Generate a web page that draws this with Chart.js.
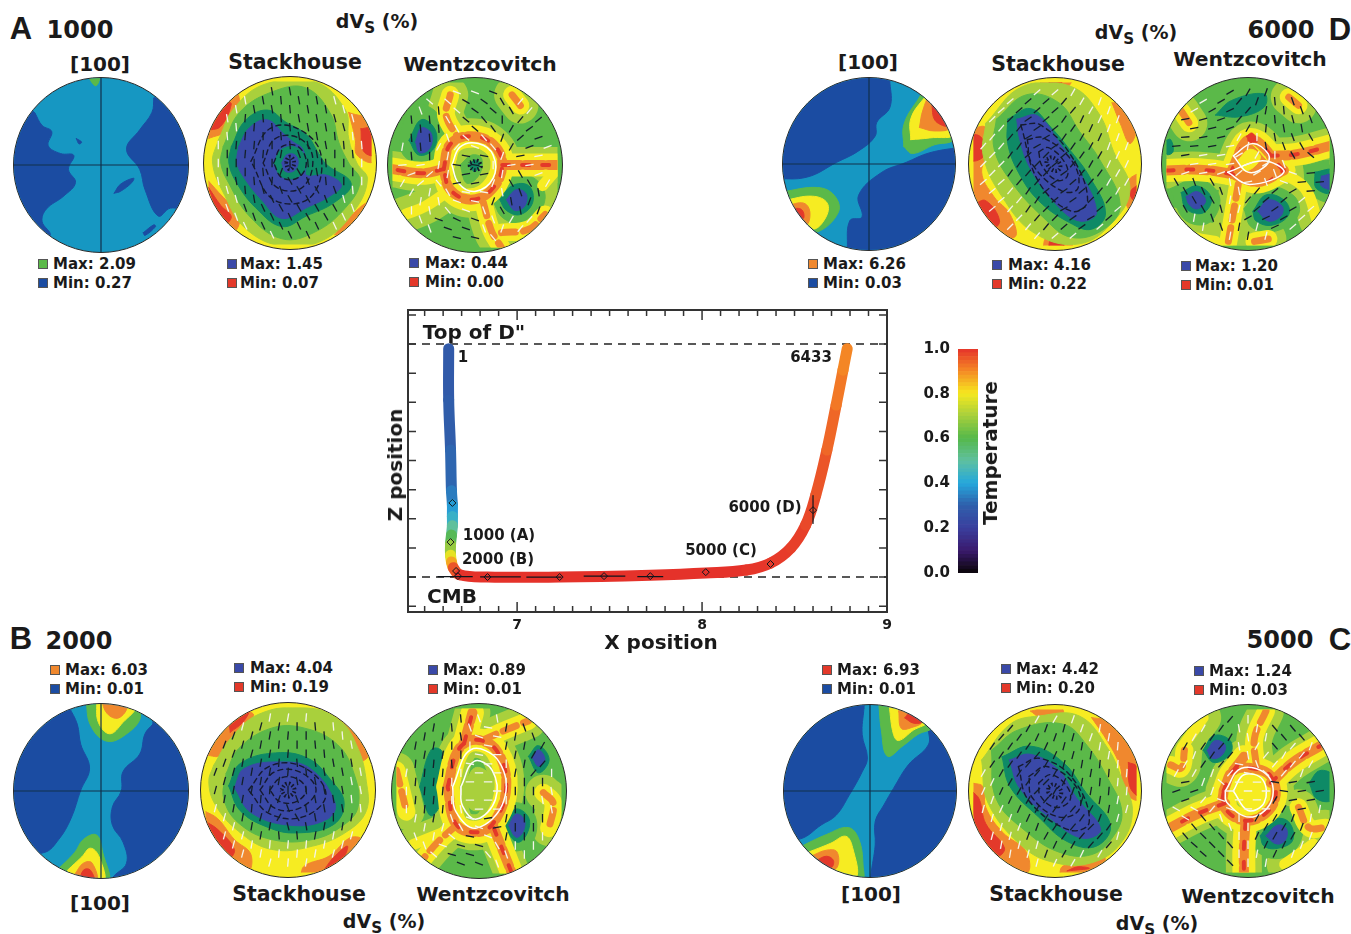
<!DOCTYPE html>
<html>
<head>
<meta charset="utf-8">
<title>Pole figures along a D'' path</title>
<script src="https://cdn.jsdelivr.net/npm/chart.js@4"></script>
<style>
    html, body { margin: 0; padding: 0; background: #fff; }
    #page { position: relative; width: 1351px; height: 934px; overflow: hidden; font-family: "DejaVu Sans", sans-serif; font-weight: bold; color: #1a1a1a; }
    .pole { position: absolute; border-radius: 50%; overflow: hidden; box-sizing: border-box; border: 1px solid #2a2a2a; }
    .pole canvas { display: block; margin: -1px; filter: blur(0.7px); }
    .label { position: absolute; white-space: nowrap; transform: translate(-50%, -50%); }
    .label sub { font-size: 0.8em; vertical-align: -0.35em; line-height: 0; }
    .legend { position: absolute; white-space: nowrap; font-size: 15px; line-height: 16px; transform: translateY(-50%); }
    .swatch { position: absolute; width: 10px; height: 10px; box-sizing: border-box; border: 1px solid #555; transform: translate(-50%, -50%); }
    #pathCanvas, #barCanvas { position: absolute; }
</style>
</head>
<body>
<div id="page">
    <canvas id="pathCanvas" width="520" height="365" style="left:378px;top:300px"></canvas>
    <canvas id="barCanvas" width="60" height="242" style="left:920px;top:340px"></canvas>
</div>
<script>
// contour levels of the pole figures
const D = 0, C = 1, G = 2, Y = 3, O = 4, R = 5, B = 6, T = 7, L = 8;
// hot bands (drawn as nested thick lines) and rings of fast axis marks
const HOT = 9, WARM = 10, PALE = 11, RK = 12, RW = 13, EYE = 14;

// path of the tracer
const pathX = [6.63, 6.63, 6.64, 6.645, 6.65, 6.65, 6.65, 6.645, 6.64, 6.64, 6.645, 6.655, 6.69, 6.84, 7.23, 7.72, 8.02, 8.24, 8.37, 8.48, 8.56, 8.615, 8.675, 8.725, 8.762, 8.785];
const pathZ = [0.98, 0.76, 0.545, 0.37, 0.31, 0.26, 0.22, 0.18, 0.14, 0.094, 0.065, 0.04, 0.01, 0, 0, 0.008, 0.017, 0.03, 0.06, 0.125, 0.223, 0.352, 0.545, 0.738, 0.888, 0.98];
const pathTemp = [0.28, 0.29, 0.3, 0.32, 0.36, 0.41, 0.46, 0.55, 0.62, 0.74, 0.82, 0.92, 1, 1, 1, 1, 1, 1, 0.99, 0.99, 0.98, 0.97, 0.95, 0.93, 0.91, 0.9];
const markX = [6.65, 6.64, 6.67, 6.68, 6.84, 7.23, 7.47, 7.72, 8.02, 8.37, 8.6];
const markZ = [0.318, 0.15, 0.026, 0.004, 0, 0, 0.004, 0.004, 0.021, 0.056, 0.287];
const whiskerX = [6.57, 6.76, null, 6.8, 7.02, null, 7.05, 7.24, null, 7.36, 7.585, null, 7.65, 7.79, null, 8.6, 8.6];
const whiskerZ = [0.002, 0.002, null, 0.001, 0.001, null, 0, 0, null, 0.004, 0.004, null, 0.002, 0.002, null, 0.35, 0.23];
const xTickLabels = [7, 8, 9];
const xTickMarks = [6.5, 6.6, 6.7, 6.8, 6.9, 7, 7.1, 7.2, 7.3, 7.4, 7.5, 7.6, 7.7, 7.8, 7.9, 8, 8.1, 8.2, 8.3, 8.4, 8.5, 8.6, 8.7, 8.8, 8.9, 9];
const zTickMarks = [-0.125, 0, 0.125, 0.25, 0.375, 0.5, 0.625, 0.75, 0.875, 1, 1.125];
const tempTicks = [0, 0.2, 0.4, 0.6, 0.8, 1];
const tempStops = [0, 0.1, 0.2, 0.3, 0.4, 0.5, 0.6, 0.7, 0.8, 0.9, 1];
const tempColors = ['#0a0508', '#3a1a6e', '#3a3f9e', '#2f5fab', '#25a8dc', '#5fc0a0', '#55b84a', '#a6cf3c', '#f6e81f', '#f58a25', '#e5322a'];

// contour layers, [level, x, y, x, y, ...] in unit disc coordinates
const a100 = [
    [D, -0.75, 0.59, -0.67, 0.45, -0.56, 0.38, -0.6, 0.22, -0.46, 0.13, -0.31, 0.11, -0.37, -0.05, -0.29, -0.2, -0.42, -0.35, -0.62, -0.5, -0.67, -0.64, -0.58, -0.81, -0.9, -1.1, -1.15, 0, -1, 0.8],
    [D, 0.6, 0.76, 0.58, 0.6, 0.44, 0.4, 0.29, 0.18, 0.44, -0.05, 0.5, -0.28, 0.65, -0.58, 0.79, -0.49, 1.1, -0.5, 1.15, 0.3, 1, 0.9],
    [D, 0.15, -0.32, 0.22, -0.22, 0.37, -0.15, 0.35, -0.2, 0.22, -0.3],
    [D, 0.48, -0.77, 0.6, -0.68, 0.62, -0.7, 0.5, -0.8],
    [D, -0.28, 0.3, -0.22, 0.26, -0.25, 0.24],
    [G, -0.16, 1.02, -0.06, 0.9, -0.02, 1.02],
];
const d100 = [
    [D, -1.1, -0.17, -0.71, -0.15, -0.37, 0.02, -0.12, 0.15, 0.07, 0.32, 0.09, 0.48, 0.24, 0.65, 0.24, 0.93, 0.2, 1.1, -1.1, 1.1],
    [D, 1.1, 0.2, 0.7, 0.13, 0.43, 0.02, 0.14, -0.1, -0.12, -0.36, -0.08, -0.61, -0.22, -0.65, -0.25, -0.97, -0.25, -1.1, 1.1, -1.1],
    [G, 0.4, 0.2, 0.4, 0.45, 0.55, 0.72, 0.7, 0.88, 1.05, 0.5, 0.98, 0.28, 0.75, 0.22, 0.5, 0.12],
    [Y, 0.48, 0.28, 0.48, 0.52, 0.62, 0.74, 0.72, 0.82, 0.98, 0.35, 0.7, 0.3],
    [O, 0.58, 0.42, 0.62, 0.62, 0.7, 0.76, 0.92, 0.42, 0.75, 0.38],
    [R, 0.72, 0.7, 0.9, 0.44, 0.76, 0.5],
    [G, -1, -0.32, -0.59, -0.27, -0.4, -0.36, -0.35, -0.55, -0.59, -0.78, -0.72, -0.7, -1, -0.6],
    [Y, -0.98, -0.42, -0.65, -0.37, -0.48, -0.45, -0.5, -0.62, -0.65, -0.75, -0.85, -0.6],
    [O, -0.95, -0.48, -0.75, -0.45, -0.68, -0.55, -0.72, -0.7, -0.85, -0.6],
    [R, -0.93, -0.52, -0.78, -0.52, -0.75, -0.62, -0.82, -0.62],
];
const b100 = [
    [D, -0.36, 0.95, -0.27, 0.76, -0.23, 0.53, -0.13, 0.26, -0.23, 0.01, -0.34, -0.31, -0.48, -0.55, -0.65, -0.7, -1.1, -0.7, -1.1, 1.1, -0.36, 1.1],
    [D, 0.59, 0.76, 0.5, 0.65, 0.44, 0.42, 0.25, 0.22, 0.23, 0, 0.13, -0.18, 0.13, -0.39, 0.25, -0.58, 0.29, -0.82, 0.13, -0.99, 0.13, -1.1, 1.1, -1.1, 1.1, 1, 0.6, 1],
    [G, -0.17, 1.02, -0.12, 0.75, 0.05, 0.57, 0.25, 0.62, 0.45, 0.85, 0.3, 1.05],
    [Y, -0.05, 1.02, -0.03, 0.78, 0.1, 0.65, 0.25, 0.78, 0.38, 0.95],
    [O, 0, 1.05, 0.07, 0.88, 0.2, 0.83, 0.3, 0.97, 0.2, 1.05],
    [G, -0.5, -0.9, -0.3, -0.7, -0.2, -0.55, -0.05, -0.5, 0.02, -0.7, 0.08, -1.05, -0.3, -1.05],
    [Y, -0.38, -0.9, -0.22, -0.75, -0.12, -0.65, -0.02, -0.75, 0.03, -1.05, -0.25, -1.05],
    [O, -0.3, -0.95, -0.2, -0.82, -0.1, -0.82, -0.05, -1.05, -0.25, -1.05],
    [R, -0.25, -1.05, -0.2, -0.9, -0.12, -0.9, -0.08, -1.05],
];
const c100 = [
    [D, -0.07, 0.95, -0.09, 0.65, -0.03, 0.38, -0.09, 0.22, -0.24, -0.05, -0.39, -0.28, -0.56, -0.39, -0.8, -0.55, -1.1, -0.55, -1.1, 1.1, -0.07, 1.1],
    [D, 0.67, 0.72, 0.67, 0.53, 0.44, 0.3, 0.27, 0.03, 0.16, -0.16, 0.06, -0.35, 0.06, -0.62, 0.01, -0.97, 0.01, -1.1, 1.1, -1.1, 1.1, 0.6, 0.8, 0.8],
    [G, 0.1, 1.02, 0.13, 0.7, 0.2, 0.4, 0.38, 0.52, 0.55, 0.65, 0.72, 0.74, 0.55, 0.98],
    [Y, 0.22, 0.98, 0.27, 0.65, 0.33, 0.58, 0.5, 0.7, 0.66, 0.8, 0.45, 1],
    [O, 0.33, 0.92, 0.36, 0.72, 0.48, 0.73, 0.6, 0.8, 0.47, 0.96],
    [R, 0.4, 0.84, 0.5, 0.78, 0.6, 0.8, 0.48, 0.92],
    [G, -0.82, -0.65, -0.5, -0.5, -0.25, -0.42, -0.13, -0.55, -0.08, -0.85, -0.1, -1.05, -0.5, -1],
    [Y, -0.7, -0.7, -0.45, -0.6, -0.28, -0.52, -0.2, -0.65, -0.16, -1, -0.4, -0.95],
    [O, -0.68, -0.75, -0.5, -0.68, -0.38, -0.7, -0.38, -0.88, -0.5, -0.9],
    [R, -0.62, -0.8, -0.5, -0.75, -0.42, -0.8, -0.45, -0.88],
];

const aStack = [
    [O, -1, 0.3, -0.78, 0.4, -0.62, 0.72, -0.7, 0.9, -1, 0.7],
    [R, -1, 0.4, -0.85, 0.45, -0.72, 0.72, -0.78, 0.75],
    [O, 0.72, 0.62, 0.8, 0.3, 0.82, 0.1, 1.02, 0.02, 1, 0.5],
    [R, 0.87, 0.42, 0.9, 0.15, 1.02, 0.1, 1, 0.42],
    [O, -1.02, -0.2, -0.82, -0.42, -0.62, -0.62, -0.7, -0.85, -1, -0.7],
    [R, -1, -0.3, -0.85, -0.52, -0.72, -0.66, -0.82, -0.75],
    [O, 0.55, -0.88, 0.78, -0.62, 0.95, -0.5, 0.85, -0.9],
    [L, -0.88, 0.28, -0.68, 0.68, -0.3, 0.97, 0.3, 1, 0.68, 0.65, 0.72, 0.3, 0.82, 0, 0.95, -0.2, 0.78, -0.6, 0.4, -0.95, -0.1, -1.02, -0.55, -0.8, -0.8, -0.4, -0.95, 0],
    [G, -0.82, 0.2, -0.62, 0.62, -0.2, 0.88, 0.2, 0.92, 0.5, 0.6, 0.6, 0.25, 0.72, 0, 0.86, -0.22, 0.68, -0.55, 0.3, -0.85, -0.1, -0.93, -0.5, -0.65, -0.75, -0.25, -0.85, 0],
    [T, -0.72, 0.2, -0.55, 0.52, -0.28, 0.65, -0.05, 0.5, 0.2, 0.35, 0.35, 0.12, 0.45, -0.02, 0.75, -0.25, 0.55, -0.48, 0.2, -0.65, -0.1, -0.78, -0.42, -0.55, -0.65, -0.25, -0.75, 0],
    [B, -0.63, 0.2, -0.5, 0.43, -0.28, 0.53, -0.08, 0.36, 0.05, 0.25, 0.15, 0.18, 0.2, 0, 0.2, -0.15, 0.45, -0.15, 0.63, -0.27, 0.5, -0.4, 0.2, -0.55, -0.1, -0.68, -0.35, -0.45, -0.55, -0.2, -0.65, 0],
    [T, -0.2, 0, -0.1, 0.17, 0.1, 0.18, 0.2, 0, 0.1, -0.17, -0.1, -0.17],
    [B, -0.1, 0, -0.04, 0.1, 0.06, 0.1, 0.1, 0, 0.04, -0.1, -0.06, -0.1],
    [RK, -0.2, 0, -0.1, 0.2, 0.1, 0.2, 0.2, 0, 0.1, -0.18, -0.1, -0.18],
    [RK, -0.33, 0, -0.18, 0.3, 0.12, 0.3, 0.28, 0.05, 0.15, -0.3, -0.16, -0.3],
    [RK, -0.48, 0.02, -0.25, 0.42, 0.1, 0.42, 0.38, 0.1, 0.25, -0.42, -0.2, -0.45],
    [EYE, -0.05, 0, -0.02, 0.07, 0.02, 0.07, 0.05, 0, 0.02, -0.07, -0.02, -0.07],
];
const dStack = [
    [O, -0.2, 1.05, -0.12, 0.92, 0.12, 0.92, 0.2, 1.05],
    [R, -0.08, 1.03, -0.05, 0.95, 0.05, 0.95, 0.08, 1.03],
    [O, -0.15, -1.05, -0.1, -0.9, 0.15, -0.9, 0.2, -1.05],
    [R, -0.08, -1.03, -0.05, -0.93, 0.08, -0.93, 0.1, -1.03],
    [O, -1.05, 0.42, -0.85, 0.45, -0.8, 0.2, -0.9, -0.1, -0.75, -0.4, -0.55, -0.62, -0.5, -0.9, -1, -0.82],
    [R, -1.05, 0.38, -0.9, 0.32, -0.87, 0.1, -1.05, 0.05],
    [R, -1, -0.5, -0.85, -0.45, -0.68, -0.7, -0.8, -0.8],
    [O, 1.05, -0.1, 0.9, -0.2, 0.85, -0.4, 0.95, -0.6, 1.05, -0.5],
    [R, 1.02, -0.25, 0.92, -0.35, 0.98, -0.45],
    [O, 0.7, 0.75, 0.8, 0.5, 0.92, 0.25, 1, 0.5, 0.85, 0.75],
    [L, -0.85, 0.5, -0.4, 0.95, 0.2, 0.95, 0.55, 0.6, 0.72, 0.15, 0.92, -0.3, 0.72, -0.7, 0.3, -0.98, -0.25, -0.85, -0.65, -0.4, -0.88, 0.1],
    [G, -0.72, 0.55, -0.35, 0.85, 0.05, 0.75, 0.3, 0.4, 0.55, 0.05, 0.8, -0.5, 0.6, -0.8, 0.2, -0.9, -0.15, -0.65, -0.55, -0.2, -0.75, 0.2],
    [T, -0.58, 0.55, -0.3, 0.68, -0.05, 0.45, 0.2, 0.15, 0.42, -0.15, 0.62, -0.6, 0.45, -0.8, 0.18, -0.72, -0.2, -0.45, -0.45, -0.1, -0.58, 0.25],
    [B, -0.47, 0.55, -0.21, 0.59, 0.09, 0.21, 0.26, -0.02, 0.51, -0.59, 0.3, -0.7, 0, -0.48, -0.3, -0.06, -0.43, 0.29],
    [RK, -0.2, 0.15, -0.08, 0.2, 0.12, 0.02, 0.15, -0.15, 0.02, -0.2, -0.16, -0.02],
    [RK, -0.34, 0.3, -0.14, 0.32, 0.22, 0.02, 0.28, -0.3, 0.08, -0.33, -0.28, 0],
    [RK, -0.42, 0.48, -0.18, 0.48, 0.2, 0.1, 0.4, -0.45, 0.2, -0.58, -0.2, -0.22],
    [EYE, -0.1, 0.06, -0.03, 0.08, 0.06, 0, 0.05, -0.07, -0.02, -0.08, -0.1, 0],
];
const bStack = [
    [O, -0.98, 0.42, -0.82, 0.42, -0.55, 0.75, -0.42, 0.92, -0.7, 0.95],
    [R, -0.7, 0.7, -0.55, 0.82, -0.48, 0.95, -0.7, 0.85],
    [O, 0.55, 0.95, 0.72, 0.6, 0.88, 0.35, 1, 0.5],
    [O, -1.02, -0.25, -0.85, -0.35, -0.65, -0.6, -0.45, -0.78, -0.5, -1, -0.95, -0.8],
    [R, -1, -0.38, -0.85, -0.48, -0.65, -0.72, -0.72, -0.82],
    [O, 0.15, -1.05, 0.2, -0.92, 0.5, -0.8, 0.75, -0.58, 0.88, -0.6, 0.55, -1],
    [R, 0.45, -0.95, 0.55, -0.82, 0.72, -0.68, 0.65, -0.85],
    [L, -0.9, 0.3, -0.7, 0.62, -0.35, 0.92, 0.2, 1, 0.62, 0.85, 0.85, 0.5, 0.95, 0.1, 0.95, -0.25, 0.72, -0.5, 0.3, -0.68, -0.2, -0.72, -0.6, -0.5, -0.88, -0.18, -0.96, 0.1],
    [G, -0.75, 0.2, -0.6, 0.5, -0.2, 0.75, 0.2, 0.75, 0.6, 0.55, 0.8, 0.2, 0.85, -0.2, 0.68, -0.42, 0.3, -0.6, -0.2, -0.6, -0.6, -0.4, -0.78, -0.1],
    [T, -0.72, 0.05, -0.58, 0.32, -0.15, 0.45, 0.25, 0.38, 0.52, 0.12, 0.68, -0.15, 0.55, -0.42, 0.1, -0.52, -0.25, -0.45, -0.58, -0.25],
    [B, -0.65, 0.03, -0.53, 0.26, -0.1, 0.34, 0.27, 0.26, 0.57, -0.16, 0.48, -0.35, 0.06, -0.43, -0.44, -0.28],
    [RK, -0.22, 0, -0.1, 0.14, 0.1, 0.14, 0.22, 0, 0.1, -0.14, -0.1, -0.14],
    [RK, -0.34, 0, -0.16, 0.22, 0.14, 0.22, 0.34, 0, 0.14, -0.22, -0.16, -0.22],
    [RK, -0.48, 0, -0.22, 0.29, 0.18, 0.28, 0.46, -0.05, 0.2, -0.32, -0.22, -0.29],
    [EYE, -0.08, 0, -0.03, 0.07, 0.03, 0.07, 0.08, 0, 0.03, -0.07, -0.03, -0.07],
];
const cStack = [
    [O, -0.3, 0.98, -0.1, 0.85, 0.1, 0.9, 0.05, 1.05],
    [O, 0.45, 0.9, 0.65, 0.6, 0.8, 0.3, 0.85, 0, 1.02, -0.1, 1, 0.5, 0.7, 0.85],
    [R, 0.9, 0.35, 0.92, 0.05, 1.02, -0.05, 1, 0.3],
    [O, -1.02, 0.1, -0.88, 0.05, -0.85, -0.2, -0.65, -0.5, -0.35, -0.75, -0.35, -1, -0.9, -0.7],
    [R, -1.02, 0, -0.93, -0.1, -0.85, -0.4, -0.62, -0.7, -0.72, -0.8, -0.95, -0.5],
    [O, 0.05, -1.05, 0.1, -0.92, 0.4, -0.88, 0.6, -0.78, 0.55, -1],
    [R, 0.15, -0.98, 0.28, -0.93, 0.42, -0.95],
    [L, -0.9, 0.38, -0.55, 0.82, -0.2, 0.92, 0.3, 0.92, 0.65, 0.52, 0.82, 0.15, 0.95, -0.25, 0.8, -0.65, 0.45, -0.88, 0, -0.88, -0.4, -0.68, -0.82, -0.15],
    [G, -0.78, 0.5, -0.45, 0.75, 0.1, 0.82, 0.4, 0.55, 0.65, 0.15, 0.82, -0.25, 0.72, -0.55, 0.45, -0.78, 0.05, -0.75, -0.35, -0.5, -0.72, -0.1],
    [T, -0.65, 0.42, -0.3, 0.55, 0.1, 0.35, 0.38, -0.02, 0.68, -0.42, 0.5, -0.68, 0.15, -0.62, -0.2, -0.32, -0.55, 0.05],
    [B, -0.56, 0.38, -0.3, 0.45, 0.04, 0.26, 0.26, -0.08, 0.56, -0.47, 0.34, -0.58, -0.04, -0.35, -0.43, 0.03],
    [RK, -0.2, 0.1, -0.05, 0.2, 0.15, 0.05, 0.18, -0.12, 0, -0.2, -0.18, -0.06],
    [RK, -0.32, 0.18, -0.1, 0.3, 0.24, 0.08, 0.3, -0.22, 0.05, -0.32, -0.28, -0.08],
    [RK, -0.45, 0.3, -0.18, 0.4, 0.22, 0.15, 0.42, -0.38, 0.18, -0.48, -0.32, -0.12],
    [EYE, -0.08, 0.05, -0.02, 0.08, 0.07, 0.01, 0.06, -0.07, 0, -0.08, -0.08, -0.02],
];

const aWentz = [
    [G, -0.92, 0.35, -0.75, 0.72, -0.45, 0.62, -0.38, 0.25, -0.6, 0.03, -0.85, 0.1],
    [T, -0.8, 0.3, -0.65, 0.55, -0.48, 0.42, -0.5, 0.2, -0.68, 0.12],
    [B, -0.72, 0.28, -0.65, 0.45, -0.53, 0.38, -0.55, 0.2, -0.67, 0.15],
    [G, 0.2, -0.4, 0.4, -0.15, 0.7, -0.15, 0.85, -0.4, 0.65, -0.7, 0.35, -0.65],
    [T, 0.3, -0.42, 0.45, -0.25, 0.65, -0.25, 0.7, -0.45, 0.55, -0.6, 0.38, -0.55],
    [B, 0.38, -0.42, 0.5, -0.3, 0.62, -0.35, 0.6, -0.5, 0.48, -0.55],
    [HOT, -0.38, -0.05, -0.3, 0.25, -0.05, 0.35, 0.22, 0.25, 0.33, 0, 0.2, -0.3, -0.05, -0.42, -0.3, -0.3, -0.38, -0.05],
    [HOT, -0.38, -0.05, -0.65, -0.1, -1, -0.05],
    [HOT, 0.33, 0, 0.6, 0, 1, 0],
    [WARM, -0.3, 0.85, -0.35, 0.6, -0.2, 0.32],
    [WARM, 0.45, 0.85, 0.55, 0.72],
    [WARM, 0.1, -0.45, 0.2, -0.8, 0.32, -1],
    [WARM, 0.32, -0.82, 0.65, -0.78, 0.85, -0.6],
    [PALE, -0.3, -0.3, -0.6, -0.5, -0.85, -0.6],
    [PALE, 0.95, -0.1, 0.82, -0.25],
    [L, -0.22, 0.05, -0.05, 0.2, 0.15, 0.1, 0.12, -0.15, -0.1, -0.28, -0.25, -0.15],
    [G, -0.18, 0, -0.04, 0.12, 0.08, 0.08, 0.05, -0.12, -0.1, -0.22],
    [T, -0.08, 0, 0, 0.06, 0.06, 0.02, 0, -0.08],
    [RW, -0.28, 0, -0.18, 0.22, 0.04, 0.26, 0.22, 0.12, 0.22, -0.16, 0, -0.32, -0.2, -0.22],
    [EYE, -0.06, 0.03, 0.03, 0.05, 0.07, -0.02, 0, -0.06, -0.06, -0.02],
];
const dWentz = [
    [T, -0.4, 0.6, -0.2, 0.78, 0.2, 0.86, 0.2, 0.7, -0.1, 0.58],
    [T, -1.02, 0.28, -0.95, 0.3, -0.92, 0.15, -1, 0.12],
    [G, -0.95, -0.3, -0.62, -0.18, -0.35, -0.4, -0.48, -0.72, -0.78, -0.68],
    [T, -0.82, -0.35, -0.62, -0.27, -0.45, -0.42, -0.55, -0.6, -0.76, -0.55],
    [B, -0.76, -0.4, -0.62, -0.34, -0.52, -0.45, -0.62, -0.55, -0.72, -0.5],
    [G, -0.05, -0.55, 0.18, -0.28, 0.55, -0.38, 0.62, -0.62, 0.35, -0.82, 0.05, -0.78],
    [T, 0.06, -0.58, 0.22, -0.38, 0.45, -0.45, 0.5, -0.62, 0.3, -0.75, 0.1, -0.7],
    [B, 0.12, -0.58, 0.25, -0.44, 0.42, -0.52, 0.4, -0.64, 0.25, -0.7],
    [G, 0.68, -0.02, 1.05, 0.02, 1.05, -0.45, 0.75, -0.35],
    [T, 0.82, -0.1, 1.05, -0.08, 1.05, -0.35, 0.84, -0.3],
    [B, 0.9, -0.15, 1.05, -0.13, 1.05, -0.3, 0.9, -0.27],
    [HOT, -1, -0.08, -0.6, -0.07, -0.22, -0.12, 0.12, -0.22, 0.44, -0.08],
    [HOT, -0.22, -0.12, 0.03, 0.3, 0.44, -0.08],
    [HOT, 0.28, 0.1, 0.6, 0.12, 1, 0.22],
    [WARM, -0.82, 0.65, -0.72, 0.5],
    [WARM, 0.5, 0.82, 0.62, 0.72],
    [WARM, -0.12, -0.25, -0.18, -0.6, -0.25, -1],
    [WARM, 0.08, -0.95, 0.25, -0.92],
    [PALE, 0.4, -0.1, 0.7, -0.3, 0.85, -0.7],
    [PALE, -0.95, -0.75, -0.65, -0.9, -0.4, -0.95],
    [R, -0.02, 0.34, 0.05, 0.38, 0.1, 0.3, 0.04, 0.26],
    [O, -0.2, 0.02, -0.02, 0.25, 0.22, 0.05, 0.35, -0.1, 0, -0.25],
    [Y, -0.12, 0.05, 0.02, 0.18, 0.15, 0.1, 0.08, -0.03, -0.05, -0.08],
    [RW, -0.18, 0.1, 0.05, 0.25, 0.25, 0.12, 0.22, -0.02, 0, -0.1],
    [RW, -0.25, -0.1, 0.02, -0.25, 0.44, -0.1, 0.18, 0.04],
];
const bWentz = [
    [T, -0.72, 0.05, -0.58, 0.5, -0.45, 0.48, -0.42, 0, -0.58, -0.3],
    [T, 0.6, 0.42, 0.72, 0.55, 0.85, 0.38, 0.72, 0.22],
    [B, 0.65, 0.4, 0.72, 0.5, 0.8, 0.38, 0.72, 0.3],
    [G, 0.2, -0.42, 0.4, -0.15, 0.65, -0.25, 0.68, -0.55, 0.5, -0.72, 0.25, -0.65],
    [T, 0.3, -0.42, 0.44, -0.22, 0.6, -0.32, 0.58, -0.52, 0.46, -0.62],
    [B, 0.36, -0.42, 0.45, -0.28, 0.55, -0.35, 0.53, -0.5, 0.45, -0.56],
    [HOT, -0.38, 0.05, -0.25, 0.5, -0.03, 0.62, 0.22, 0.48, 0.33, 0.05, 0.18, -0.38, -0.03, -0.5, -0.28, -0.4, -0.38, 0.05],
    [HOT, -0.18, 0.58, -0.08, 0.95],
    [HOT, 0.18, -0.45, 0.3, -0.75, 0.4, -1],
    [WARM, 0.05, 0.62, 0.35, 0.75, 0.6, 0.85],
    [WARM, -0.28, -0.42, -0.5, -0.62, -0.7, -0.85],
    [WARM, -1, 0.25, -0.92, -0.08, -0.88, -0.25],
    [WARM, 0.78, -0.02, 0.9, -0.15, 0.85, -0.45],
    [PALE, -0.3, -0.45, -0.8, -0.65],
    [L, -0.18, 0.05, -0.05, 0.28, 0.12, 0.2, 0.14, -0.1, -0.03, -0.24, -0.18, -0.12],
    [RW, -0.22, 0.05, -0.06, 0.36, 0.16, 0.25, 0.2, -0.1, -0.03, -0.34, -0.2, -0.18],
    [RW, -0.32, 0.05, -0.1, 0.5, 0.24, 0.36, 0.3, -0.12, -0.03, -0.45, -0.28, -0.25],
];
const cWentz = [
    [T, -0.55, 0.5, -0.42, 0.68, -0.22, 0.62, -0.22, 0.45, -0.42, 0.35],
    [B, -0.5, 0.5, -0.4, 0.62, -0.28, 0.56, -0.32, 0.44, -0.44, 0.4],
    [G, 0.05, -0.55, 0.25, -0.22, 0.62, -0.25, 0.65, -0.6, 0.42, -0.82, 0.12, -0.75],
    [T, 0.15, -0.55, 0.32, -0.35, 0.5, -0.38, 0.55, -0.6, 0.38, -0.7, 0.2, -0.68],
    [B, 0.22, -0.55, 0.36, -0.42, 0.47, -0.46, 0.46, -0.6, 0.35, -0.65],
    [T, 0.75, 0.1, 0.88, 0.25, 1.05, 0.18, 1.05, -0.1, 0.85, -0.1],
    [HOT, -0.3, 0, -0.18, 0.25, 0.05, 0.28, 0.28, 0.18, 0.33, -0.1, 0.15, -0.32, -0.1, -0.35, -0.3, -0.18, -0.3, 0],
    [HOT, -0.28, -0.15, -0.62, -0.28, -0.95, -0.45],
    [HOT, 0.28, 0.1, 0.55, 0.35, 0.88, 0.55],
    [HOT, -0.03, -0.38, -0.05, -0.7, -0.05, -1],
    [HOT, -0.18, 0.25, -0.05, 0.42],
    [WARM, 0.1, 0.32, 0.08, 0.65, 0.22, 0.98],
    [WARM, -0.95, 0.32, -0.82, 0.28, -0.78, 0.5],
    [WARM, 0.62, -0.2, 0.75, -0.45, 0.95, -0.45],
    [PALE, -0.8, 0.55, -0.55, 0.9],
    [PALE, 0.45, -0.9, 0.8, -0.65],
    [Y, -0.2, 0, -0.05, 0.18, 0.18, 0.12, 0.2, -0.12, -0.02, -0.24],
    [RW, -0.18, 0, -0.05, 0.2, 0.18, 0.14, 0.2, -0.14, 0, -0.24],
    [RW, -0.28, 0, -0.08, 0.28, 0.25, 0.18, 0.28, -0.14, 0.02, -0.32, -0.26, -0.14],
];

// fast axis directions, rows from the top down, degrees clockwise.
// 0 means no mark, adding 180 gives the same line but drawn white.
// two staggered grids: 9x9 on gridSteps and 8x8 on gridStepsB
const gridSteps = [-0.88, -0.66, -0.44, -0.22, 0, 0.22, 0.44, 0.66, 0.88];
const gridStepsB = [-0.77, -0.55, -0.33, -0.11, 0.11, 0.33, 0.55, 0.77];
const aStackAngles = [
    [0, 0, 0, 80, 80, 85, 0, 0, 0],
    [0, 260, 80, 80, 85, 80, 80, 255, 0],
    [0, 265, 95, 85, 85, 80, 80, 75, 0],
    [270, 95, 95, 90, 85, 80, 80, 85, 265],
    [270, 90, 90, 90, 90, 85, 85, 90, 270],
    [260, 80, 85, 95, 60, 70, 85, 90, 270],
    [0, 255, 80, 65, 60, 60, 70, 255, 0],
    [0, 250, 70, 65, 65, 60, 60, 245, 0],
    [0, 0, 0, 245, 65, 65, 0, 0, 0],
];
const aStackAnglesB = [
    [0, 260, 80, 85, 80, 80, 255, 0],
    [260, 95, 85, 85, 80, 80, 75, 255],
    [265, 95, 90, 85, 80, 80, 85, 265],
    [90, 95, 95, 100, 70, 80, 90, 85],
    [90, 90, 85, 110, 60, 80, 90, 90],
    [255, 85, 75, 70, 60, 60, 70, 265],
    [250, 70, 65, 60, 60, 60, 60, 250],
    [0, 245, 65, 65, 65, 65, 245, 0],
];
const dStackAngles = [
    [0, 0, 0, 320, 320, 300, 0, 0, 0],
    [0, 320, 140, 140, 140, 130, 300, 290, 0],
    [0, 310, 130, 145, 140, 125, 115, 290, 0],
    [310, 310, 125, 150, 145, 125, 120, 290, 290],
    [315, 315, 125, 135, 140, 130, 120, 295, 295],
    [320, 320, 130, 130, 145, 140, 130, 300, 300],
    [0, 320, 310, 125, 140, 145, 135, 130, 0],
    [0, 0, 315, 130, 135, 145, 150, 140, 0],
    [0, 0, 0, 310, 320, 320, 0, 0, 0],
];
const dStackAnglesB = [
    [0, 320, 140, 140, 130, 300, 290, 0],
    [315, 135, 145, 140, 125, 115, 295, 290],
    [310, 130, 150, 150, 125, 120, 115, 290],
    [315, 125, 140, 135, 140, 125, 120, 295],
    [315, 125, 130, 135, 145, 130, 125, 300],
    [320, 310, 125, 140, 145, 140, 130, 300],
    [320, 310, 125, 135, 150, 150, 140, 320],
    [0, 315, 310, 130, 140, 145, 320, 0],
];
const bStackAngles = [
    [0, 0, 0, 280, 280, 275, 0, 0, 0],
    [0, 110, 105, 100, 95, 90, 85, 265, 0],
    [0, 110, 105, 100, 95, 90, 85, 80, 0],
    [110, 105, 100, 100, 95, 85, 80, 80, 260],
    [105, 100, 100, 95, 90, 85, 80, 80, 260],
    [285, 100, 95, 110, 70, 80, 80, 80, 265],
    [0, 285, 100, 100, 75, 80, 100, 100, 0],
    [0, 285, 280, 275, 275, 275, 280, 285, 0],
    [0, 0, 0, 285, 275, 280, 0, 0, 0],
];
const bStackAnglesB = [
    [0, 285, 105, 100, 90, 85, 265, 0],
    [110, 105, 100, 95, 90, 85, 80, 260],
    [110, 100, 100, 95, 85, 80, 80, 80],
    [105, 100, 100, 100, 80, 80, 80, 260],
    [100, 100, 95, 110, 70, 80, 80, 265],
    [285, 100, 105, 120, 60, 80, 90, 100],
    [285, 285, 100, 85, 85, 100, 280, 285],
    [0, 285, 280, 275, 275, 280, 285, 0],
];
const cStackAngles = [
    [0, 0, 0, 300, 300, 290, 0, 0, 0],
    [0, 130, 125, 115, 110, 105, 290, 280, 0],
    [0, 125, 125, 130, 115, 105, 100, 280, 0],
    [300, 120, 125, 130, 120, 105, 100, 95, 275],
    [295, 115, 120, 135, 120, 110, 100, 95, 275],
    [285, 295, 115, 120, 125, 130, 120, 100, 285],
    [0, 285, 290, 110, 125, 130, 135, 125, 0],
    [0, 280, 285, 285, 115, 120, 130, 130, 0],
    [0, 0, 0, 285, 295, 300, 0, 0, 0],
];
const cStackAnglesB = [
    [0, 130, 120, 110, 105, 290, 280, 0],
    [125, 125, 125, 115, 105, 100, 280, 275],
    [125, 125, 130, 120, 105, 100, 95, 275],
    [295, 120, 125, 135, 115, 100, 95, 275],
    [290, 115, 120, 130, 125, 110, 100, 280],
    [285, 290, 115, 120, 130, 125, 110, 285],
    [285, 285, 110, 120, 125, 130, 130, 285],
    [0, 280, 285, 110, 120, 295, 300, 0],
];
const aWentzAngles = [
    [0, 0, 0, 200, 200, 20, 0, 0, 0],
    [0, 250, 85, 220, 35, 40, 60, 310, 0],
    [0, 85, 85, 240, 40, 55, 120, 145, 0],
    [280, 85, 300, 310, 200, 230, 120, 160, 340],
    [355, 350, 280, 10, 10, 270, 350, 350, 0],
    [300, 320, 230, 170, 170, 290, 60, 60, 300],
    [0, 280, 260, 200, 190, 110, 80, 110, 0],
    [0, 250, 20, 25, 20, 250, 300, 310, 0],
    [0, 0, 0, 15, 15, 230, 0, 0, 0],
];
const aWentzAnglesB = [
    [0, 220, 220, 30, 35, 60, 310, 0],
    [85, 85, 240, 40, 50, 90, 130, 140],
    [85, 85, 250, 220, 230, 110, 140, 160],
    [85, 90, 280, 10, 10, 290, 170, 350],
    [340, 320, 280, 170, 170, 280, 60, 340],
    [300, 280, 240, 190, 190, 260, 70, 80],
    [270, 260, 230, 200, 250, 60, 80, 110],
    [0, 250, 20, 20, 250, 290, 310, 0],
];
const dWentzAngles = [
    [0, 0, 0, 150, 120, 110, 0, 0, 0],
    [0, 330, 150, 155, 130, 100, 85, 70, 0],
    [0, 170, 165, 160, 120, 95, 80, 80, 0],
    [175, 175, 170, 350, 280, 80, 70, 60, 0],
    [0, 350, 350, 350, 340, 330, 250, 0, 0],
    [60, 70, 60, 260, 350, 250, 200, 175, 175],
    [0, 60, 60, 280, 130, 140, 140, 320, 0],
    [0, 280, 70, 275, 150, 155, 150, 320, 0],
    [0, 0, 0, 280, 100, 285, 0, 0, 0],
];
const dWentzAnglesB = [
    [0, 330, 150, 130, 110, 85, 70, 0],
    [170, 165, 160, 130, 100, 85, 75, 70],
    [175, 170, 165, 300, 270, 80, 70, 60],
    [170, 350, 350, 330, 300, 270, 60, 40],
    [340, 350, 340, 320, 330, 250, 200, 175],
    [60, 65, 70, 260, 130, 140, 150, 175],
    [60, 60, 75, 285, 140, 145, 150, 320],
    [0, 280, 70, 100, 285, 155, 320, 0],
];
const bWentzAngles = [
    [0, 0, 0, 85, 250, 260, 0, 0, 0],
    [0, 100, 100, 80, 200, 190, 100, 70, 0],
    [0, 100, 100, 90, 190, 180, 100, 120, 0],
    [280, 95, 95, 270, 180, 180, 100, 130, 270],
    [270, 95, 95, 270, 0, 180, 90, 90, 260],
    [270, 95, 95, 260, 180, 180, 90, 90, 260],
    [0, 280, 285, 240, 200, 170, 90, 90, 0],
    [0, 250, 200, 15, 15, 240, 270, 270, 0],
    [0, 0, 0, 20, 20, 250, 0, 0, 0],
];
const bWentzAnglesB = [
    [0, 100, 85, 250, 190, 100, 70, 0],
    [100, 100, 90, 270, 190, 100, 100, 120],
    [95, 95, 85, 190, 180, 270, 100, 130],
    [95, 95, 270, 180, 180, 270, 90, 90],
    [95, 95, 270, 180, 180, 270, 90, 260],
    [280, 100, 250, 200, 170, 100, 90, 90],
    [250, 280, 220, 10, 200, 100, 90, 270],
    [0, 220, 15, 15, 230, 250, 270, 0],
];
const cWentzAngles = [
    [0, 0, 0, 130, 270, 0, 0, 0, 0],
    [0, 300, 125, 120, 260, 280, 50, 50, 0],
    [0, 290, 125, 130, 260, 310, 300, 310, 0],
    [300, 300, 290, 310, 190, 220, 310, 290, 0],
    [160, 160, 290, 180, 180, 180, 10, 170, 170],
    [210, 210, 310, 200, 180, 180, 120, 170, 280],
    [0, 50, 50, 250, 270, 120, 120, 110, 0],
    [0, 40, 45, 50, 270, 115, 115, 290, 0],
    [0, 0, 0, 45, 270, 280, 0, 0, 0],
];
const cWentzAnglesB = [
    [0, 300, 125, 260, 280, 50, 50, 0],
    [120, 125, 130, 260, 300, 50, 310, 290],
    [300, 125, 130, 190, 250, 310, 310, 300],
    [170, 290, 220, 180, 180, 10, 170, 170],
    [160, 310, 200, 180, 180, 120, 170, 170],
    [210, 50, 250, 270, 120, 120, 110, 280],
    [50, 45, 50, 270, 115, 120, 120, 290],
    [0, 40, 45, 270, 280, 115, 290, 0],
];

// legend text
const legendMax = ['2.09', '1.45', '0.44', '6.26', '4.16', '1.20', '6.03', '4.04', '0.89', '6.93', '4.42', '1.24'];
const legendMin = ['0.27', '0.07', '0.00', '0.03', '0.22', '0.01', '0.01', '0.19', '0.01', '0.01', '0.20', '0.03'];

// ---- layout and styles ----
const levelColors = ['#1b4ca2', '#1697c2', '#5bb949', '#f6ec22', '#f0882e', '#e3392a', '#3a49a8', '#0e8a66', '#a9d03c'];
const bandSteps = { [HOT]: [[Y, 23], [O, 10, [18, 5]], [R, 4, [7, 13]]], [WARM]: [[Y, 18], [O, 7, [14, 8]]], [PALE]: [[Y, 11]] };

const poles = [
    { cx: 101, cy: 165, r: 88, base: C, layers: a100, cross: true, maxSw: G, lx: 53, ly: 264, sx: 43 },
    { cx: 290, cy: 163, r: 87, base: Y, layers: aStack, angles: aStackAngles, anglesB: aStackAnglesB, maxSw: B, lx: 240, ly: 264, sx: 232 },
    { cx: 475, cy: 165, r: 88, base: G, layers: aWentz, angles: aWentzAngles, anglesB: aWentzAnglesB, maxSw: B, lx: 425, ly: 263, sx: 414 },
    { cx: 869, cy: 164, r: 87, base: C, layers: d100, cross: true, maxSw: O, lx: 823, ly: 264, sx: 813 },
    { cx: 1055, cy: 164, r: 87, base: Y, layers: dStack, angles: dStackAngles, anglesB: dStackAnglesB, maxSw: B, lx: 1008, ly: 265, sx: 997 },
    { cx: 1248, cy: 164, r: 87, base: G, layers: dWentz, angles: dWentzAngles, anglesB: dWentzAnglesB, maxSw: B, lx: 1195, ly: 266, sx: 1186 },
    { cx: 101, cy: 791, r: 88, base: C, layers: b100, cross: true, maxSw: O, lx: 65, ly: 670, sx: 55 },
    { cx: 288, cy: 790, r: 88, base: Y, layers: bStack, angles: bStackAngles, anglesB: bStackAnglesB, maxSw: B, lx: 250, ly: 668, sx: 239 },
    { cx: 479, cy: 791, r: 88, base: G, layers: bWentz, angles: bWentzAngles, anglesB: bWentzAnglesB, maxSw: B, lx: 443, ly: 670, sx: 433 },
    { cx: 870, cy: 791, r: 87, base: C, layers: c100, cross: true, maxSw: R, lx: 837, ly: 670, sx: 827 },
    { cx: 1055, cy: 791, r: 87, base: Y, layers: cStack, angles: cStackAngles, anglesB: cStackAnglesB, maxSw: B, lx: 1016, ly: 669, sx: 1006 },
    { cx: 1248, cy: 791, r: 87, base: G, layers: cWentz, angles: cWentzAngles, anglesB: cWentzAnglesB, maxSw: B, lx: 1209, ly: 671, sx: 1199 },
];

const dvLabel = 'dV<sub>S</sub> (%)';
const texts = [
    ['A', 21, 29, 31, 'Liberation Sans'], ['1000', 80, 30, 24],
    ['D', 1340, 30, 31, 'Liberation Sans'], ['6000', 1281, 30, 24],
    ['B', 21, 639, 31, 'Liberation Sans'], ['2000', 79, 641, 24],
    ['C', 1340, 640, 31, 'Liberation Sans'], ['5000', 1280, 640, 24],
    [dvLabel, 377, 21, 19], [dvLabel, 1136, 32, 19], [dvLabel, 384, 921, 19], [dvLabel, 1157, 923, 19],
    ['[100]', 100, 64, 20], ['Stackhouse', 295, 62, 20.5], ['Wentzcovitch', 480, 64, 20.3],
    ['[100]', 868, 62, 20], ['Stackhouse', 1058, 64, 20.5], ['Wentzcovitch', 1250, 59, 20.3],
    ['[100]', 100, 903, 20], ['Stackhouse', 299, 894, 20.5], ['Wentzcovitch', 493, 894, 20.3],
    ['[100]', 871, 894, 20], ['Stackhouse', 1056, 894, 20.5], ['Wentzcovitch', 1258, 896, 20.3],
    ['Top of D"', 474, 332, 20], ['CMB', 452, 596, 20],
    ['1', 463, 357, 15], ['6433', 811, 357, 15],
    ['1000 (A)', 499, 535, 15], ['2000 (B)', 498, 559, 15], ['5000 (C)', 721, 550, 15], ['6000 (D)', 765, 507, 15],
    ['X position', 661, 642, 20], ['Z position', 395, 465, 20, null, -90], ['Temperature', 990, 453, 20, null, -90],
];

const page = document.getElementById('page');

function addText(html, x, y, size, family, rot) {
    const el = document.createElement('div');
    el.className = 'label';
    el.innerHTML = html;
    el.style.left = x + 'px';
    el.style.top = y + 'px';
    el.style.fontSize = size + 'px';
    if (family) el.style.fontFamily = family;
    if (rot) el.style.transform = 'translate(-50%, -50%) rotate(' + rot + 'deg)';
    page.appendChild(el);
}

function addLegend(text, x, y, sx, color) {
    const sw = document.createElement('div');
    sw.className = 'swatch';
    sw.style.left = sx + 'px';
    sw.style.top = y + 'px';
    sw.style.background = color;
    page.appendChild(sw);
    const el = document.createElement('div');
    el.className = 'legend';
    el.textContent = text;
    el.style.left = x + 'px';
    el.style.top = y + 'px';
    page.appendChild(el);
}

function toPoints(flat) {
    const pts = [];
    for (let i = 0; i < flat.length; i += 2) pts.push({ x: flat[i], y: flat[i + 1] });
    return pts;
}

function lineSet(pts, color, width, extra) {
    return Object.assign({
        data: pts, showLine: true, fill: false, borderColor: color, borderWidth: width, tension: 0.4,
        pointRadius: 0, capBezierPoints: false, borderCapStyle: 'round', borderJoinStyle: 'round',
    }, extra);
}

const isBand = kind => kind === HOT || kind === WARM || kind === PALE;

function tickSet(angles, steps) {
    const pts = [], rot = [], cols = [];
    angles.forEach((row, j) => row.forEach((a, i) => {
        const x = steps[i], y = steps[steps.length - 1 - j];
        if (!a || x * x + y * y > 0.95) return;
        pts.push({ x, y });
        rot.push(a % 180);
        cols.push(a >= 180 ? '#f4f4ea' : '#14202a');
    }));
    return { data: pts, pointStyle: 'line', pointRadius: 4.2, pointBorderWidth: 1.3, pointRotation: rot, pointBorderColor: cols };
}

// turn the layers of one pole figure into datasets, painted in list order
function poleDatasets(pole) {
    const sets = [];
    let bands = [];
    // pale halo first so that the cold islands stay on top of it
    pole.layers.filter(l => isBand(l[0])).forEach(band => {
        sets.push(lineSet(toPoints(band.slice(1)), levelColors[L], 36));
    });
    const flushBands = () => {
        for (let step = 0; step < 3; step++) {
            bands.forEach(band => {
                const s = bandSteps[band[0]][step];
                if (s) sets.push(lineSet(toPoints(band.slice(1)), levelColors[s[0]], s[1], s[2] ? { borderDash: s[2] } : {}));
            });
        }
        bands = [];
    };
    pole.layers.forEach(layer => {
        const kind = layer[0];
        if (isBand(kind)) { bands.push(layer); return; }
        flushBands();
        const pts = toPoints(layer.slice(1));
        pts.push(pts[0]);
        if (kind === RK) sets.push(lineSet(pts, '#161a30', 1.4, { borderDash: [5, 4] }));
        else if (kind === RW) sets.push(lineSet(pts, '#ffffff', 1.5));
        else if (kind === EYE) sets.push(lineSet(pts, '#14182c', 4, { borderDash: [1.5, 2], borderCapStyle: 'butt' }));
        else sets.push(lineSet(pts, levelColors[kind], 1, { fill: 'shape', backgroundColor: levelColors[kind] }));
    });
    flushBands();

    if (pole.angles) {
        sets.push(tickSet(pole.angles, gridSteps));
        sets.push(tickSet(pole.anglesB, gridStepsB));
    }
    if (pole.cross) {
        sets.push(lineSet(toPoints([-1, 0, 1, 0]), '#12304a', 1.2, { tension: 0 }));
        sets.push(lineSet(toPoints([0, -1, 0, 1]), '#12304a', 1.2, { tension: 0 }));
    }
    sets.forEach((s, i) => { s.order = -i; });
    return sets;
}

function drawPole(pole, index) {
    const size = pole.r * 2;
    const wrap = document.createElement('div');
    wrap.className = 'pole';
    wrap.style.left = (pole.cx - pole.r) + 'px';
    wrap.style.top = (pole.cy - pole.r) + 'px';
    wrap.style.width = size + 'px';
    wrap.style.height = size + 'px';
    wrap.style.background = levelColors[pole.base];
    const canvas = document.createElement('canvas');
    canvas.width = size;
    canvas.height = size;
    wrap.appendChild(canvas);
    page.appendChild(wrap);
    new Chart(canvas, {
        type: 'scatter',
        data: { datasets: poleDatasets(pole) },
        options: {
            responsive: false,
            animation: false,
            plugins: { legend: { display: false }, tooltip: { enabled: false } },
            scales: {
                x: { type: 'linear', display: false, min: -1, max: 1 },
                y: { type: 'linear', display: false, min: -1, max: 1 },
            },
        },
    });
    addLegend('Max: ' + legendMax[index], pole.lx, pole.ly, pole.sx, levelColors[pole.maxSw]);
    addLegend('Min: ' + legendMin[index], pole.lx, pole.ly + 19, pole.sx, pole.base === C ? levelColors[D] : levelColors[R]);
}

// interpolated colour of the temperature scale
function tempColor(t) {
    let i = 0;
    while (i < tempStops.length - 2 && t > tempStops[i + 1]) i++;
    const f = (t - tempStops[i]) / (tempStops[i + 1] - tempStops[i]);
    const hex = c => [1, 3, 5].map(k => parseInt(c.substr(k, 2), 16));
    const a = hex(tempColors[i]), b = hex(tempColors[i + 1]);
    return 'rgb(' + a.map((v, k) => Math.round(v + (b[k] - v) * f)).join(',') + ')';
}

// inward tick marks on all four sides of the frame
const frameTicks = {
    id: 'frameTicks',
    afterDraw(chart) {
        const { ctx, chartArea: area, scales } = chart;
        ctx.save();
        ctx.strokeStyle = '#333';
        ctx.lineWidth = 1.5;
        ctx.beginPath();
        xTickMarks.forEach(v => {
            const p = scales.x.getPixelForValue(v);
            const len = xTickLabels.includes(v) ? 10 : 6;
            ctx.moveTo(p, area.bottom);
            ctx.lineTo(p, area.bottom - len);
            ctx.moveTo(p, area.top);
            ctx.lineTo(p, area.top + len);
        });
        zTickMarks.forEach(v => {
            const p = scales.y.getPixelForValue(v);
            ctx.moveTo(area.left, p);
            ctx.lineTo(area.left + 8, p);
            ctx.moveTo(area.right, p);
            ctx.lineTo(area.right - 8, p);
        });
        ctx.stroke();
        ctx.restore();
    },
};

function drawPath() {
    const frame = { display: true, color: '#333', width: 2 };
    const noGrid = { display: false, drawOnChartArea: false, drawTicks: false };
    const xAxis = (position, extra) => Object.assign({
        type: 'linear', position, min: 6.41, max: 9, border: frame, grid: noGrid,
        ticks: { stepSize: 0.1, includeBounds: false, autoSkip: false, display: false },
    }, extra);
    const yAxis = (position, width) => ({
        type: 'linear', position, min: -0.15, max: 1.146, border: frame, grid: noGrid,
        ticks: { stepSize: 0.125, includeBounds: false, autoSkip: false, display: false },
        afterFit: s => { s.width = width; },
    });
    const pathPts = pathX.map((x, i) => ({ x, y: pathZ[i] }));
    new Chart(document.getElementById('pathCanvas'), {
        type: 'scatter',
        data: {
            datasets: [
                { data: markX.map((x, i) => ({ x, y: markZ[i] })), pointStyle: 'rectRot', pointRadius: 3.5, pointBackgroundColor: 'rgba(0,0,0,0)', pointBorderColor: '#10151c', pointBorderWidth: 1 },
                lineSet(whiskerX.map((x, i) => ({ x, y: whiskerZ[i] })), '#10151c', 1.2, { tension: 0, borderCapStyle: 'butt' }),
                lineSet(pathPts, '#e5322a', 11, {
                    tension: 0.4,
                    segment: { borderColor: ctx => tempColor((pathTemp[ctx.p0DataIndex] + pathTemp[ctx.p1DataIndex]) / 2) },
                }),
                lineSet(toPoints([6.41, 1, 9, 1]), '#222', 1.5, { tension: 0, borderDash: [8, 6], borderCapStyle: 'butt' }),
                lineSet(toPoints([6.41, 0, 9, 0]), '#222', 1.5, { tension: 0, borderDash: [8, 6], borderCapStyle: 'butt' }),
            ],
        },
        plugins: [frameTicks],
        options: {
            responsive: false,
            animation: false,
            plugins: { legend: { display: false }, tooltip: { enabled: false } },
            scales: {
                x: xAxis('bottom', {
                    ticks: {
                        stepSize: 0.1, includeBounds: false, autoSkip: false, maxRotation: 0, padding: 5,
                        color: '#1a1a1a', font: { family: 'DejaVu Sans', weight: 'bold', size: 14 },
                        callback: v => xTickLabels.includes(Math.round(v * 100) / 100) ? String(Math.round(v)) : '',
                    },
                    afterFit: s => { s.height = 53; },
                }),
                xTop: xAxis('top', { afterFit: s => { s.height = 10; } }),
                y: yAxis('left', 30),
                yRight: yAxis('right', 11),
            },
        },
    });
}

function drawColorBar() {
    const steps = [];
    for (let i = 0; i < 60; i++) steps.push((i + 0.5) / 60);
    new Chart(document.getElementById('barCanvas'), {
        type: 'bar',
        data: {
            labels: ['Temperature'],
            datasets: steps.map(t => ({ data: [1 / 60], backgroundColor: tempColor(t), borderWidth: 0, barPercentage: 1, categoryPercentage: 1 })),
        },
        options: {
            responsive: false,
            animation: false,
            layout: { padding: { top: 8, bottom: 8, right: 2 } },
            plugins: { legend: { display: false }, tooltip: { enabled: false } },
            scales: {
                x: { stacked: true, display: false },
                y: {
                    stacked: true, min: 0, max: 1, border: { display: false }, grid: { display: false },
                    afterBuildTicks: s => { s.ticks = tempTicks.map(value => ({ value })); },
                    afterFit: s => { s.width = 38; },
                    ticks: {
                        padding: 0, color: '#1a1a1a', font: { family: 'DejaVu Sans', weight: 'bold', size: 15 },
                        callback: v => Number(v).toFixed(1),
                    },
                },
            },
        },
    });
}

poles.forEach(drawPole);
drawPath();
drawColorBar();
texts.forEach(t => addText(t[0], t[1], t[2], t[3], t[4], t[5]));
</script>
</body>
</html>
